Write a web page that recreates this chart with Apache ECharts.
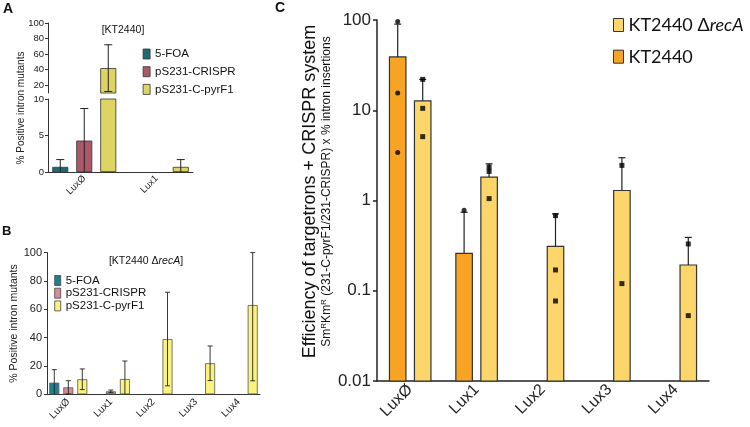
<!DOCTYPE html>
<html>
<head>
<meta charset="utf-8">
<script src="https://cdn.jsdelivr.net/npm/echarts@6/dist/echarts.min.js"></script>
<style>
  html, body { margin: 0; padding: 0; background: #fff; }
  #chart { width: 750px; height: 427px; }
</style>
</head>
<body>
<div id="chart"></div>
<script>
// panel A - KT2440
const categoriesA = ['LuxØ', 'Lux1'];
const foaA = [0.7, null];
const foaASd = [1.0, null];
const crisprA = [4.3, null];
const crisprASd = [4.4, null];
const pyrA = [42, 0.7];
const pyrASd = [30, 1.0];
const ticksATop = [20, 40, 60, 80, 100];

// panel B - KT2440 recA
const categoriesB = ['LuxØ', 'Lux1', 'Lux2', 'Lux3', 'Lux4'];
const foaB = [8.2, null, null, null, null];
const foaBSd = [9.2, null, null, null, null];
const crisprB = [4.9, 2.1, null, null, null];
const crisprBSd = [4.7, 0.9, null, null, null];
const pyrB = [10.6, 10.8, 39, 21.9, 63];
const pyrBSd = [7.3, 12.7, 33, 12.2, 53.5];

// panel C - efficiency (log)
const categoriesC = ['LuxØ', 'Lux1', 'Lux2', 'Lux3', 'Lux4'];
const kt2440 = [39, 0.26, null, null, null];
const kt2440Sd = [51, 0.48, null, null, null];
const recA = [12.7, 1.82, 0.31, 1.29, 0.193];
const recASd = [9.3, 0.73, 0.40, 1.69, 0.197];
const kt2440Points = [[96, 15.5, 3.4], [0.78], [], [], []];
const recAPoints = [[22, 10.5, 5.1], [2.35, 2.1, 1.05], [0.68, 0.17, 0.077], [2.45, 0.12], [0.33, 0.053]];

const FONT = 'Liberation Sans';
const colA = ['#1f6b72', '#ab586a', '#ddd464'];
const colB = ['#1e7f8e', '#d68e94', '#fbf27e'];
const colC = { kt: '#f7a425', rec: '#fdd66b' };

const chart = echarts.init(document.getElementById('chart'), null, { renderer: 'canvas' });

function pack(means, sds) {
  const out = [];
  means.forEach((m, i) => {
    if (m != null && sds[i] != null) out.push([i, m, sds[i]]);
  });
  return out;
}

// error bar drawn through the axes, clamped to the visible range
function errorBar(offset, cap, lo, hi, upOnly, lw) {
  return function (params, api) {
    const i = api.value(0), m = api.value(1), sd = api.value(2);
    const top = Math.min(m + sd, hi);
    const bot = upOnly ? m : Math.max(m - sd, lo);
    if (top <= lo || bot >= hi) return;
    const p1 = api.coord([i, Math.max(bot, lo)]);
    const p2 = api.coord([i, top]);
    const x = p1[0] + offset;
    const st = { stroke: '#222', lineWidth: lw };
    const kids = [
      { type: 'line', shape: { x1: x, y1: p1[1], x2: x, y2: p2[1] }, style: st },
      { type: 'line', shape: { x1: x - cap / 2, y1: p2[1], x2: x + cap / 2, y2: p2[1] }, style: st }
    ];
    if (!upOnly && m - sd >= lo) {
      kids.push({ type: 'line', shape: { x1: x - cap / 2, y1: p1[1], x2: x + cap / 2, y2: p1[1] }, style: st });
    }
    return { type: 'group', children: kids };
  };
}

// bars on the log axis start from the axis minimum
function logBar(offset, width, color) {
  return function (params, api) {
    const i = api.value(0), v = api.value(1);
    const base = api.coord([i, 0.01]);
    const top = api.coord([i, v]);
    return {
      type: 'rect',
      shape: { x: top[0] + offset - width / 2, y: top[1], width: width, height: base[1] - top[1] },
      style: { fill: color, stroke: '#333', lineWidth: 1.2 }
    };
  };
}

function barsA(xi, yi) {
  const names = ['5-FOA', 'pS231-CRISPR', 'pS231-C-pyrF1'];
  const vals = [foaA, crisprA, pyrA];
  return names.map((n, k) => ({
    name: n, type: 'bar', xAxisIndex: xi, yAxisIndex: yi,
    barWidth: 16, barGap: '50%', clip: true,
    itemStyle: { color: colA[k], borderColor: '#333', borderWidth: 0.8 },
    data: vals[k]
  }));
}

function errorsA(xi, yi, lo, hi) {
  const offs = [-24, 0, 24];
  const sets = [[foaA, foaASd], [crisprA, crisprASd], [pyrA, pyrASd]];
  return sets.map((s, k) => ({
    type: 'custom', xAxisIndex: xi, yAxisIndex: yi, z: 5,
    renderItem: errorBar(offs[k], 8, lo, hi, false, 1),
    encode: { x: 0, y: 1 },
    data: pack(s[0], s[1])
  }));
}

const barsB = [['5-FOA', foaB], ['pS231-CRISPR', crisprB], ['pS231-C-pyrF1', pyrB]].map((s, k) => ({
  name: s[0], type: 'bar', xAxisIndex: 2, yAxisIndex: 2,
  barWidth: 10, barGap: '40%',
  itemStyle: { color: colB[k], borderColor: '#555', borderWidth: 0.8 },
  data: s[1]
}));

const errorsB = [[foaB, foaBSd], [crisprB, crisprBSd], [pyrB, pyrBSd]].map((s, k) => ({
  type: 'custom', xAxisIndex: 2, yAxisIndex: 2, z: 5,
  renderItem: errorBar([-14, 0, 14][k], 5, 0, 100, false, 0.9),
  encode: { x: 0, y: 1 },
  data: pack(s[0], s[1])
}));

function points(list) {
  const out = [];
  list.forEach((vals, i) => vals.forEach(v => out.push([i, v])));
  return out;
}

const axisTxt = { fontFamily: FONT, color: '#222' };
const thinLine = { lineStyle: { color: '#333', width: 1 } };

const option = {
  animation: false,
  textStyle: { fontFamily: FONT },
  grid: [
    { left: 48, top: 23, width: 145, height: 70 },
    { left: 48, top: 99, width: 145, height: 73 },
    { left: 47, top: 252.6, width: 213, height: 141.7 },
    { left: 377, top: 20, width: 332, height: 361 }
  ],
  xAxis: [
    { type: 'category', gridIndex: 0, data: categoriesA, show: false },
    {
      type: 'category', gridIndex: 1, data: categoriesA,
      axisLine: thinLine, axisTick: { alignWithLabel: true, length: 4, lineStyle: { color: '#333' } },
      axisLabel: Object.assign({ fontSize: 9.5, rotate: 45, margin: 5 }, axisTxt)
    },
    {
      type: 'category', gridIndex: 2, data: categoriesB,
      axisLine: thinLine, axisTick: { alignWithLabel: true, length: 3, lineStyle: { color: '#333' } },
      axisLabel: Object.assign({ fontSize: 10, rotate: 45, margin: 6 }, axisTxt)
    },
    {
      type: 'category', gridIndex: 3, data: categoriesC,
      axisLine: { lineStyle: { color: '#222', width: 1.5 } },
      axisTick: { alignWithLabel: true, length: 4, lineStyle: { color: '#222', width: 1.5 } },
      axisLabel: Object.assign({ fontSize: 16, rotate: 45, margin: 6 }, axisTxt)
    }
  ],
  yAxis: [
    {
      type: 'value', gridIndex: 0, min: 10, max: 100,
      axisLine: { show: true, lineStyle: { color: '#333' } },
      axisTick: { show: true, length: 3, customValues: ticksATop, lineStyle: { color: '#333' } },
      axisLabel: Object.assign({ fontSize: 9.5, margin: 4, customValues: ticksATop }, axisTxt),
      splitLine: { show: false }
    },
    {
      type: 'value', gridIndex: 1, min: 0, max: 10, interval: 5,
      axisLine: { show: true, lineStyle: { color: '#333' } },
      axisTick: { show: true, length: 3, lineStyle: { color: '#333' } },
      axisLabel: Object.assign({ fontSize: 9.5, margin: 4 }, axisTxt),
      splitLine: { show: false }
    },
    {
      type: 'value', gridIndex: 2, min: 0, max: 100, interval: 20,
      name: '% Positive intron mutants', nameLocation: 'middle', nameGap: 19,
      nameTextStyle: { fontSize: 10.5, fontFamily: FONT, color: '#222' },
      axisLine: { show: true, lineStyle: { color: '#333' } },
      axisTick: { show: true, length: 3, lineStyle: { color: '#333' } },
      axisLabel: Object.assign({ fontSize: 11, margin: 5 }, axisTxt),
      splitLine: { show: false }
    },
    {
      type: 'log', gridIndex: 3, min: 0.01, max: 100, logBase: 10,
      name: '{a|Efficiency of targetrons + CRISPR system}\n{b|Sm}{s|R}{b|Km}{s|R}{b| (231-C-pyrF1/231-CRISPR) x % intron insertions}',
      nameLocation: 'middle', nameGap: 44,
      nameTextStyle: {
        fontFamily: FONT, color: '#111', padding: [0, 0, 0, 18],
        rich: {
          a: { fontSize: 18, lineHeight: 19, fontFamily: FONT, color: '#111' },
          b: { fontSize: 12, lineHeight: 13, fontFamily: FONT, color: '#111' },
          s: { fontSize: 8, lineHeight: 13, verticalAlign: 'top', fontFamily: FONT, color: '#111' }
        }
      },
      axisLine: { show: true, lineStyle: { color: '#222', width: 1.5 } },
      axisTick: { show: true, length: 4, lineStyle: { color: '#222', width: 1.5 } },
      axisLabel: Object.assign({ fontSize: 17, margin: 6, formatter: v => String(v) }, axisTxt),
      splitLine: { show: false }
    }
  ],
  legend: [
    {
      orient: 'vertical', left: 142.7, top: 48, icon: 'rect', padding: 0,
      itemWidth: 7, itemHeight: 10, itemGap: 5.7,
      textStyle: { fontFamily: FONT, fontSize: 11.5, lineHeight: 12, color: '#111' },
      data: [
        { name: '5-FOA', itemStyle: { color: colA[0], borderColor: '#333', borderWidth: 0.8 } },
        { name: 'pS231-CRISPR', itemStyle: { color: colA[1], borderColor: '#333', borderWidth: 0.8 } },
        { name: 'pS231-C-pyrF1', itemStyle: { color: colA[2], borderColor: '#333', borderWidth: 0.8 } }
      ]
    },
    {
      orient: 'vertical', left: 54.3, top: 274.5, icon: 'rect', padding: 0,
      itemWidth: 6, itemHeight: 10, itemGap: 0.7,
      textStyle: { fontFamily: FONT, fontSize: 11.5, lineHeight: 11, color: '#111' },
      data: [
        { name: '5-FOA', itemStyle: { color: colB[0], borderColor: '#444', borderWidth: 0.8 } },
        { name: 'pS231-CRISPR', itemStyle: { color: colB[1], borderColor: '#444', borderWidth: 0.8 } },
        { name: 'pS231-C-pyrF1', itemStyle: { color: colB[2], borderColor: '#444', borderWidth: 0.8 } }
      ]
    },
    {
      orient: 'vertical', left: 613, top: 15, icon: 'rect', padding: 0,
      itemWidth: 10, itemHeight: 13, itemGap: 11.7,
      formatter: n => n === 'KT2440 ΔrecA' ? 'KT2440 Δ{i|recA}' : n,
      textStyle: {
        fontFamily: 'Lato', fontSize: 18, lineHeight: 20, color: '#111',
        rich: { i: { fontFamily: 'Lato', fontSize: 18, fontStyle: 'italic', color: '#111' } }
      },
      data: [
        { name: 'KT2440 ΔrecA', itemStyle: { color: colC.rec, borderColor: '#333', borderWidth: 1 } },
        { name: 'KT2440', itemStyle: { color: colC.kt, borderColor: '#333', borderWidth: 1 } }
      ]
    }
  ],
  graphic: [
    { type: 'text', left: 3, top: 2, style: { text: 'A', font: 'bold 14px "Liberation Sans"', fill: '#111' } },
    { type: 'text', left: 2, top: 225, style: { text: 'B', font: 'bold 13px "Liberation Sans"', fill: '#111' } },
    { type: 'text', left: 275, top: 1, style: { text: 'C', font: 'bold 14px "Liberation Sans"', fill: '#111' } },
    { type: 'text', x: 123, y: 30, style: { text: '[KT2440]', font: '10.5px "Liberation Sans"', fill: '#111', align: 'center', verticalAlign: 'middle' } },
    {
      type: 'text', x: 146, y: 261,
      style: {
        text: '[KT2440 Δ{i|recA}]', font: '10.5px "Liberation Sans"', fill: '#111', align: 'center', verticalAlign: 'middle',
        rich: { i: { fontStyle: 'italic', fontSize: 10.5, fontFamily: FONT, fill: '#111' } }
      }
    },
    {
      type: 'text', x: 21.7, y: 108, rotation: Math.PI / 2,
      style: { text: '% Positive intron mutants', font: '10px "Liberation Sans"', fill: '#222', align: 'center', verticalAlign: 'middle' }
    }
  ],
  series: [].concat(
    barsA(0, 0), barsA(1, 1),
    errorsA(0, 0, 10, 100), errorsA(1, 1, 0, 10),
    barsB, errorsB,
    [
      {
        name: 'KT2440', type: 'custom', xAxisIndex: 3, yAxisIndex: 3,
        itemStyle: { color: colC.kt },
        renderItem: logBar(-12.5, 16.5, colC.kt), encode: { x: 0, y: 1 },
        data: kt2440.map((v, i) => [i, v]).filter(d => d[1] != null)
      },
      {
        name: 'KT2440 ΔrecA', type: 'custom', xAxisIndex: 3, yAxisIndex: 3,
        itemStyle: { color: colC.rec },
        renderItem: logBar(12.5, 16.5, colC.rec), encode: { x: 0, y: 1 },
        data: recA.map((v, i) => [i, v])
      },
      {
        type: 'custom', xAxisIndex: 3, yAxisIndex: 3, z: 5,
        renderItem: errorBar(-12.5, 7, 0.01, 100, true, 1.2), encode: { x: 0, y: 1 },
        data: pack(kt2440, kt2440Sd)
      },
      {
        type: 'custom', xAxisIndex: 3, yAxisIndex: 3, z: 5,
        renderItem: errorBar(12.5, 7, 0.01, 100, true, 1.2), encode: { x: 0, y: 1 },
        data: pack(recA, recASd)
      },
      {
        type: 'scatter', xAxisIndex: 3, yAxisIndex: 3, z: 6,
        symbol: 'circle', symbolSize: 5, symbolOffset: [-12.5, 0],
        itemStyle: { color: '#000' },
        data: points(kt2440Points)
      },
      {
        type: 'scatter', xAxisIndex: 3, yAxisIndex: 3, z: 6,
        symbol: 'rect', symbolSize: 5, symbolOffset: [12.5, 0],
        itemStyle: { color: '#000' },
        data: points(recAPoints)
      }
    ]
  )
};

chart.setOption(option);
</script>
</body>
</html>
